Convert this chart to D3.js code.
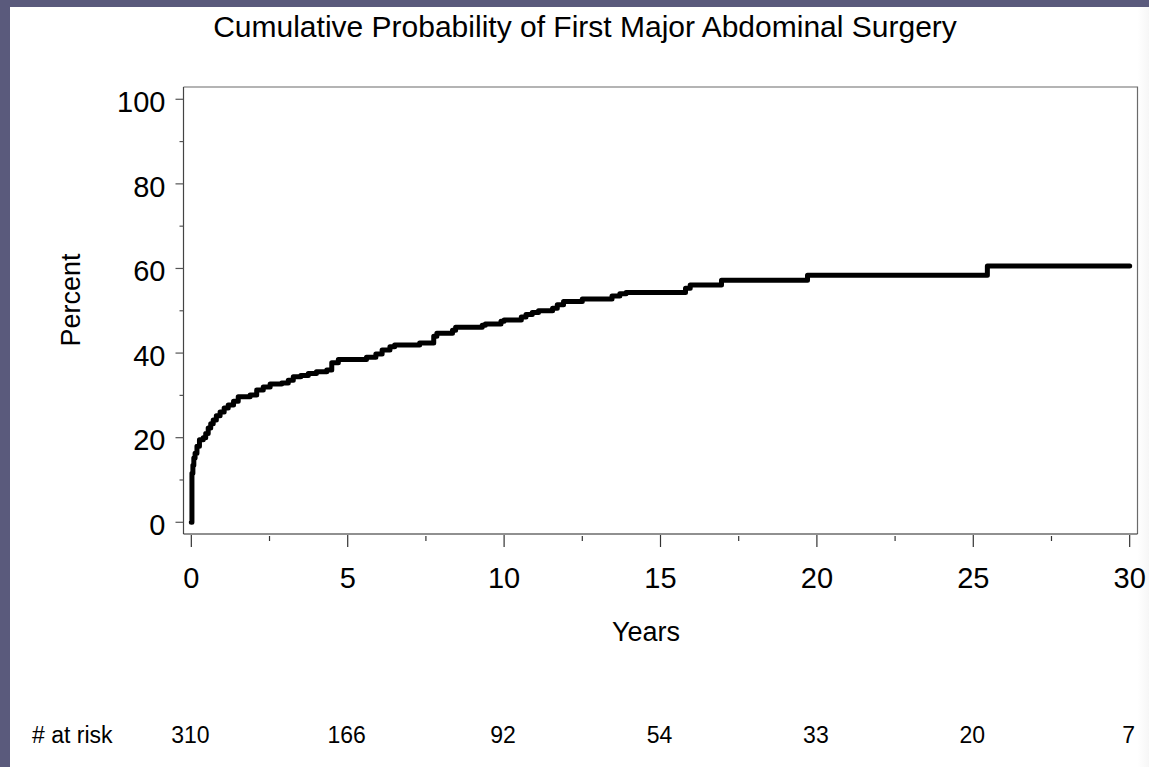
<!DOCTYPE html>
<html>
<head>
<meta charset="utf-8">
<script src="https://cdn.jsdelivr.net/npm/d3@7"></script>
<style>
  body { margin: 0; background: #5a5a7c; }
  svg { display: block; font-family: "Liberation Sans", Arial, sans-serif; }
</style>
</head>
<body>
<script>
//step times (years) and cumulative percent
var years = [0, 0.02, 0.05, 0.08, 0.12, 0.18, 0.26, 0.38, 0.46, 0.54, 0.62, 0.7, 0.8, 0.92, 1.05, 1.18, 1.35, 1.5, 1.88, 2.09, 2.3, 2.52, 2.89, 3.1, 3.26, 3.5, 3.74, 4.0, 4.33, 4.49, 4.7, 5.6, 5.9, 6.1, 6.35, 6.5, 7.3, 7.75, 7.85, 8.35, 8.45, 9.3, 9.4, 9.9, 10.0, 10.55, 10.7, 10.9, 11.1, 11.55, 11.7, 11.9, 12.5, 13.45, 13.7, 13.9, 15.8, 15.95, 16.95, 19.7, 25.45, 30];
var percent = [0, 11.6, 13.5, 15.2, 16.3, 18, 19.5, 20, 21, 22.3, 23.3, 24.2, 25.2, 26.1, 27, 27.7, 28.6, 29.7, 30.1, 31.3, 32, 32.7, 32.9, 33.6, 34.4, 34.7, 35.2, 35.6, 36, 37.7, 38.5, 39, 39.8, 40.7, 41.5, 41.9, 42.4, 44.0, 44.7, 45.4, 46.1, 46.6, 46.9, 47.5, 47.8, 48.5, 49.1, 49.6, 50.0, 50.6, 51.4, 52.2, 52.8, 53.5, 54.0, 54.3, 55.3, 56.1, 57.2, 58.4, 60.6, 60.6];

//number at risk under each major x tick
var riskYears = [0, 5, 10, 15, 20, 25, 30];
var atRisk = [310, 166, 92, 54, 33, 20, 7];

var xTicks = [0, 5, 10, 15, 20, 25, 30];
var yTicks = [0, 20, 40, 60, 80, 100];

var width = 1149,
    height = 767;

var svg = d3.select("body")
    .append("svg")
    .attr("width", width)
    .attr("height", height);

//slate frame with white page
svg.append("rect")
    .attr("width", width)
    .attr("height", height)
    .attr("fill", "#5a5a7c");

var grad = svg.append("defs").append("linearGradient")
    .attr("id", "pageGrad")
    .attr("x1", "0").attr("x2", "1").attr("y1", "0").attr("y2", "0");
grad.append("stop").attr("offset", "0.99").attr("stop-color", "#ffffff");
grad.append("stop").attr("offset", "1").attr("stop-color", "#f6f6f6");

svg.append("rect")
    .attr("x", 10)
    .attr("y", 7)
    .attr("width", width - 10)
    .attr("height", height - 7)
    .attr("fill", "url(#pageGrad)");

//plot frame
var frame = {left: 183.5, right: 1137.5, top: 87, bottom: 534};

var x = d3.scaleLinear()
    .domain([-0.25, 30.25])
    .range([frame.left, frame.right]);

var y = d3.scaleLinear()
    .domain([-2.77, 102.9])
    .range([frame.bottom, frame.top]);

//top and right border
svg.append("path")
    .attr("d", "M" + frame.left + "," + frame.top + "H" + frame.right + "V" + frame.bottom)
    .attr("fill", "none")
    .attr("stroke", "#6a6a6a")
    .attr("stroke-width", 1.2);

//y axis
var yAxis = svg.append("g")
    .attr("transform", "translate(" + frame.left + ",0)");
yAxis.append("line")
    .attr("y1", frame.top).attr("y2", frame.bottom)
    .attr("stroke", "#444").attr("stroke-width", 1.2);
yAxis.selectAll(".minor")
    .data(d3.range(10, 100, 20))
    .enter().append("line")
    .attr("x1", -4).attr("x2", 0)
    .attr("y1", function(d){ return y(d); })
    .attr("y2", function(d){ return y(d); })
    .attr("stroke", "#555").attr("stroke-width", 1.2);
yAxis.selectAll(".major")
    .data(yTicks)
    .enter().append("line")
    .attr("x1", -8).attr("x2", 0)
    .attr("y1", function(d){ return y(d); })
    .attr("y2", function(d){ return y(d); })
    .attr("stroke", "#555").attr("stroke-width", 1.2);
yAxis.selectAll("text")
    .data(yTicks)
    .enter().append("text")
    .attr("x", -18)
    .attr("y", function(d){ return y(d); })
    .attr("dy", "0.44em")
    .attr("text-anchor", "end")
    .attr("font-size", 29)
    .text(function(d){ return d; });

//x axis
var xAxis = svg.append("g")
    .attr("transform", "translate(0," + frame.bottom + ")");
xAxis.append("line")
    .attr("x1", frame.left).attr("x2", frame.right)
    .attr("stroke", "#222").attr("stroke-width", 1.2);
xAxis.selectAll(".minor")
    .data(d3.range(2.5, 30, 5))
    .enter().append("line")
    .attr("x1", function(d){ return x(d); })
    .attr("x2", function(d){ return x(d); })
    .attr("y1", 2).attr("y2", 7)
    .attr("stroke", "#333").attr("stroke-width", 1.2);
xAxis.selectAll(".major")
    .data(xTicks)
    .enter().append("line")
    .attr("x1", function(d){ return x(d); })
    .attr("x2", function(d){ return x(d); })
    .attr("y1", 1).attr("y2", 13)
    .attr("stroke", "#333").attr("stroke-width", 1.2);
xAxis.selectAll("text")
    .data(xTicks)
    .enter().append("text")
    .attr("x", function(d){ return x(d); })
    .attr("y", 54)
    .attr("text-anchor", "middle")
    .attr("font-size", 29)
    .text(function(d){ return d; });

//cumulative incidence curve
var line = d3.line()
    .x(function(d){ return x(d[0]); })
    .y(function(d){ return y(d[1]); })
    .curve(d3.curveStepAfter);

svg.append("path")
    .datum(d3.zip(years, percent))
    .attr("d", line)
    .attr("fill", "none")
    .attr("stroke", "#000")
    .attr("stroke-width", 5)
    .attr("stroke-linejoin", "round")
    .attr("stroke-linecap", "round");

//titles
svg.append("text")
    .attr("x", 585)
    .attr("y", 37)
    .attr("text-anchor", "middle")
    .attr("font-size", 30)
    .text("Cumulative Probability of First Major Abdominal Surgery");

svg.append("text")
    .attr("x", 646)
    .attr("y", 641)
    .attr("text-anchor", "middle")
    .attr("font-size", 27)
    .text("Years");

svg.append("text")
    .attr("transform", "translate(80,300) rotate(-90)")
    .attr("text-anchor", "middle")
    .attr("font-size", 27)
    .text("Percent");

//number at risk row
svg.append("text")
    .attr("x", 32)
    .attr("y", 743)
    .attr("font-size", 23)
    .text("# at risk");

svg.selectAll(".risk")
    .data(d3.zip(riskYears, atRisk))
    .enter().append("text")
    .attr("class", "risk")
    .attr("x", function(d){ return x(d[0]) - 1; })
    .attr("y", 743)
    .attr("text-anchor", "middle")
    .attr("font-size", 23)
    .text(function(d){ return d[1]; });
</script>
</body>
</html>
